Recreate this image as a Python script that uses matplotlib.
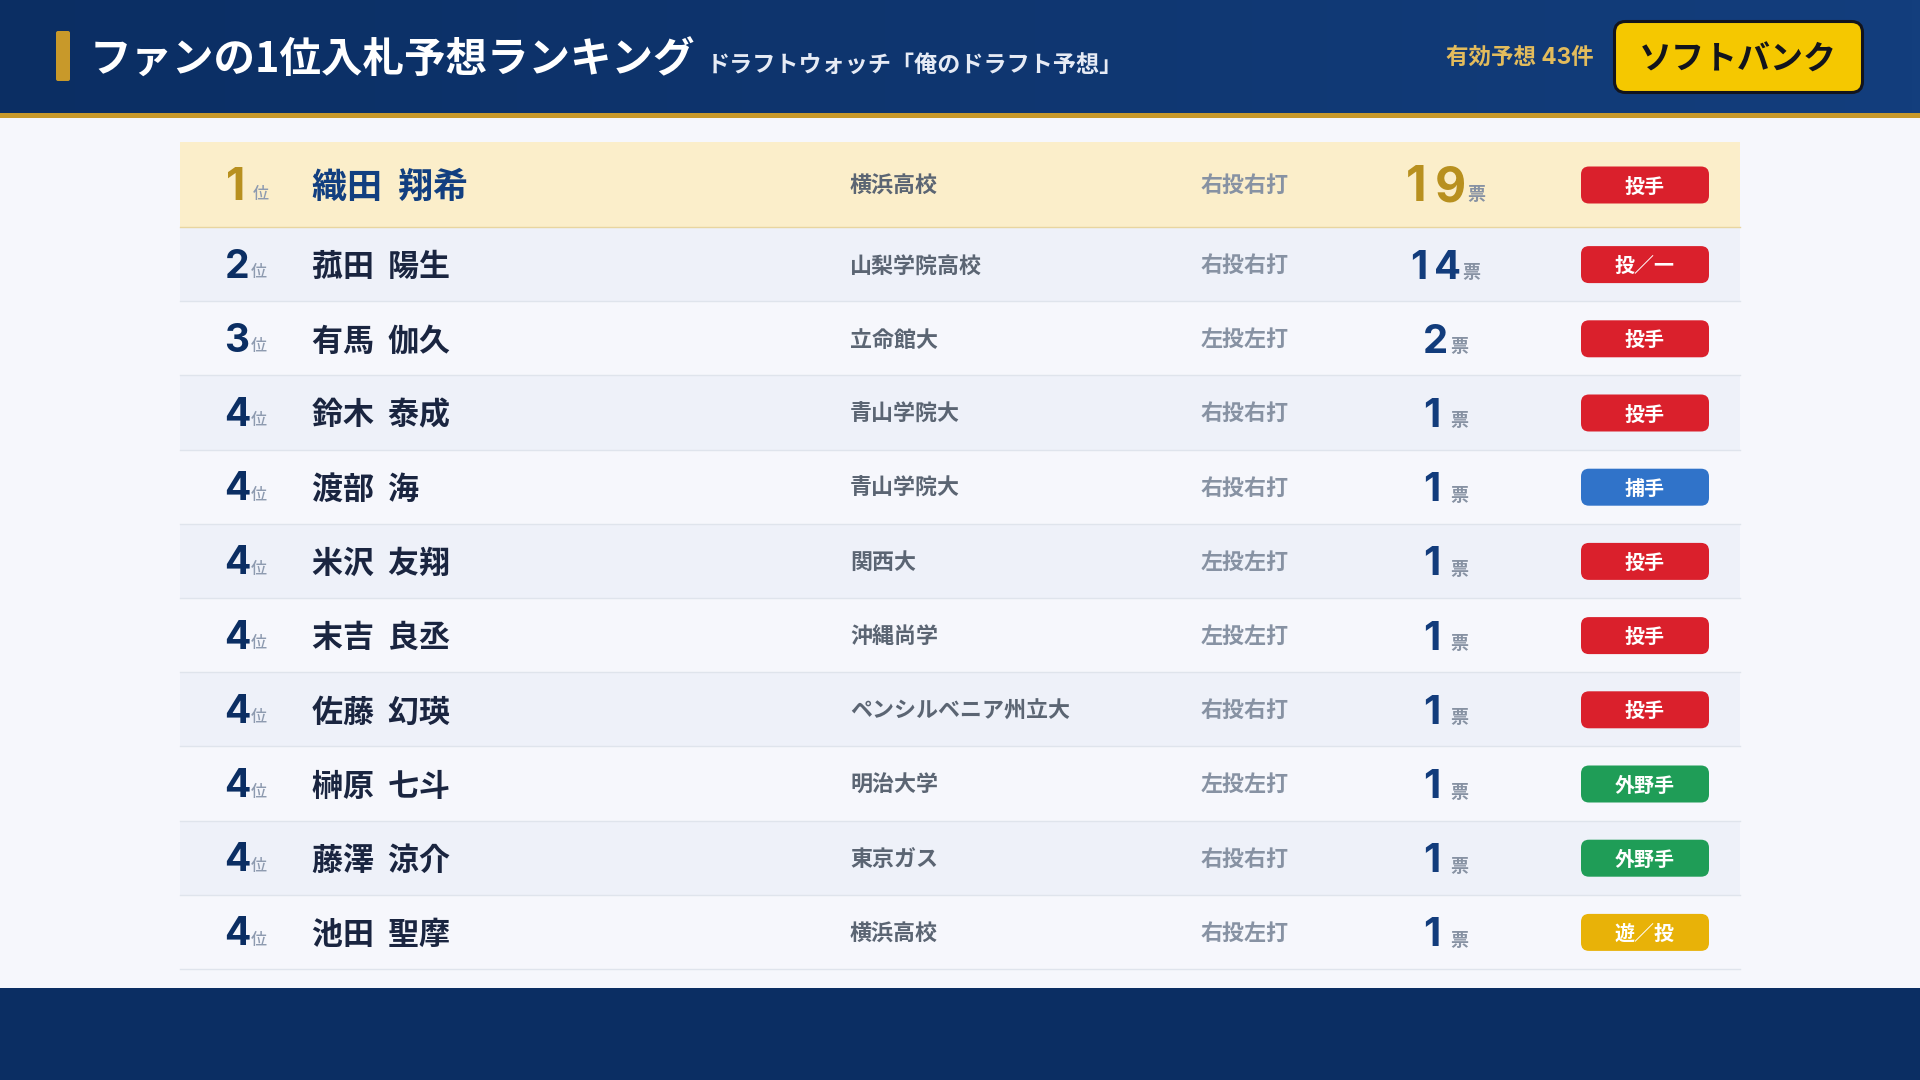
import numpy as np
import matplotlib
matplotlib.use('Agg')
import matplotlib.pyplot as plt
from matplotlib.patches import FancyBboxPatch, Rectangle

plt.rcParams['font.family'] = ['Noto Sans CJK JP', 'DejaVu Sans']
digit_font = ['Inter', 'Noto Sans CJK JP']

title = 'ファンの1位入札予想ランキング'
subtitle = 'ドラフトウォッチ「俺のドラフト予想」'
count_label = '有効予想 43件'
team = 'ソフトバンク'

ranks = [1, 2, 3, 4, 4, 4, 4, 4, 4, 4, 4]
names = ['織田 翔希', '菰田 陽生', '有馬 伽久', '鈴木 泰成', '渡部 海', '米沢 友翔',
         '末吉 良丞', '佐藤 幻瑛', '榊原 七斗', '藤澤 涼介', '池田 聖摩']
schools = ['横浜高校', '山梨学院高校', '立命館大', '青山学院大', '青山学院大', '関西大',
           '沖縄尚学', 'ペンシルベニア州立大', '明治大学', '東京ガス', '横浜高校']
hands = ['右投右打', '右投右打', '左投左打', '右投右打', '右投右打', '左投左打',
         '左投左打', '右投右打', '左投左打', '右投右打', '右投左打']
votes = [19, 14, 2, 1, 1, 1, 1, 1, 1, 1, 1]
positions = ['投手', '投／一', '投手', '投手', '捕手', '投手', '投手', '投手', '外野手', '外野手', '遊／投']

badge_colors = {'投手': '#DA202C', '投／一': '#DA202C', '捕手': '#3073C9',
                '外野手': '#1F9D57', '遊／投': '#E8B208'}

navy = '#0B2E63'
blue = '#123C7C'
gold = '#C8992A'
dark_gold = '#B8901F'
grey = '#8792A3'


def px(size):
    # css pixels to points at dpi 100
    return size * 0.72


fig = plt.figure(figsize=(19.2, 10.8), dpi=100)
ax = fig.add_axes([0, 0, 1, 1])
ax.axis('off')

# header gradient
gradient = np.linspace(0, 1, 256).reshape(1, -1, 1)
left = np.array([11, 46, 99]) / 255
right = np.array([19, 62, 125]) / 255
ax.imshow(left + (right - left) * gradient, extent=[0, 1920, 113, 0], aspect='auto', zorder=1)

ax.set_xlim(0, 1920)
ax.set_ylim(1080, 0)
fig.patch.set_facecolor('#F6F7FC')

ax.add_patch(Rectangle((0, 113), 1920, 5, color=gold, lw=0, zorder=2))
ax.add_patch(Rectangle((0, 988), 1920, 92, color=navy, lw=0, zorder=2))
ax.add_patch(FancyBboxPatch((56, 31), 14, 50, boxstyle='round,pad=0,rounding_size=2', fc=gold, ec='none', zorder=2))

ax.text(90, 73, title, color='white', fontsize=px(41.5), weight='bold', va='baseline', zorder=3)
ax.text(707, 72.5, subtitle, color='#E6EBF5', fontsize=px(23.1), weight='bold', va='baseline', zorder=3)
ax.text(1594, 64, count_label, color='#E3BC5C', fontsize=px(22.5), weight='bold', ha='right', va='baseline',
        zorder=3, family=digit_font)
ax.add_patch(FancyBboxPatch((1614.5, 21.5), 248, 71, boxstyle='round,pad=0,rounding_size=11',
                            fc='#F5C800', ec='#12141C', lw=2.2, zorder=2))
ax.text(1738, 69.5, team, color='#12141C', fontsize=px(33), weight='bold', ha='center', va='baseline', zorder=3)

row_top = 227
row_h = 74.2
for i in range(len(ranks)):
    first = i == 0
    if first:
        top, bottom = 142, 227
    else:
        top = row_top + (i - 1) * row_h
        bottom = top + row_h
    mid = (top + bottom) / 2

    if first:
        ax.add_patch(Rectangle((180, top), 1560, bottom - top, color='#FBEECA', lw=0, zorder=1))
    elif i % 2 == 1:
        ax.add_patch(Rectangle((180, top), 1560, bottom - top, color='#EEF1F9', lw=0, zorder=1))
    ax.plot([180, 1740], [bottom, bottom], color='#E8D5A0' if first else '#DFE4EC', lw=1, zorder=2)

    # rank
    rank_size = 45 if first else 39
    rank_y = mid + (15.5 if first else 13.5)
    ax.text(226 if first else 224.5, rank_y, str(ranks[i]), color=dark_gold if first else navy,
            fontsize=px(rank_size), weight='bold', va='baseline', zorder=3, family=digit_font)
    ax.text(253 if first else 251, rank_y - 0.5, '位', color='#8E9BB0', fontsize=px(16), weight='medium',
            va='baseline', zorder=3)

    # name, school, hand
    name_size = 35 if first else 31
    ax.text(312, mid + 0.5 + 0.38 * name_size, names[i].replace(' ', '  '), color='#123F80' if first else '#1A2540',
            fontsize=px(name_size), weight='bold', va='baseline', zorder=3)
    ax.text(850, mid + 0.38 * 22, schools[i], color='#5B6573', fontsize=px(22), weight='bold',
            va='baseline', zorder=3)
    ax.text(1200.5, mid - 0.5 + 0.38 * 22, hands[i], color=grey, fontsize=px(22), weight='bold',
            va='baseline', zorder=3)

    # votes: digits sit in equal cells, digits and unit centered as a group
    vote_size = 48 if first else 40
    vote_y = mid + (16.5 if first else 14.5)
    cell = 0.625 * vote_size
    vote_text = str(votes[i])
    start = 1445.5 - (len(vote_text) * cell + 2 + 18) / 2
    for k, digit in enumerate(vote_text):
        shift = -0.1 * vote_size if digit == '1' else 0
        ax.text(start + (k + 0.5) * cell + shift, vote_y, digit, color=dark_gold if first else blue,
                fontsize=px(vote_size), weight='bold', ha='center', va='baseline', zorder=3, family=digit_font)
    ax.text(start + len(vote_text) * cell + 2, vote_y - 0.5, '票', color=grey, fontsize=px(18), weight='bold',
            va='baseline', zorder=3)

    # position badge
    ax.add_patch(FancyBboxPatch((1581, mid - 18), 128, 37, boxstyle='round,pad=0,rounding_size=8',
                                fc=badge_colors[positions[i]], ec='none', zorder=2))
    ax.text(1644.5, mid + 0.5 + 0.38 * 20, positions[i], color='white', fontsize=px(20), weight='bold',
            ha='center', va='baseline', zorder=3)

fig.savefig('out.png', dpi=100, facecolor=fig.get_facecolor())
